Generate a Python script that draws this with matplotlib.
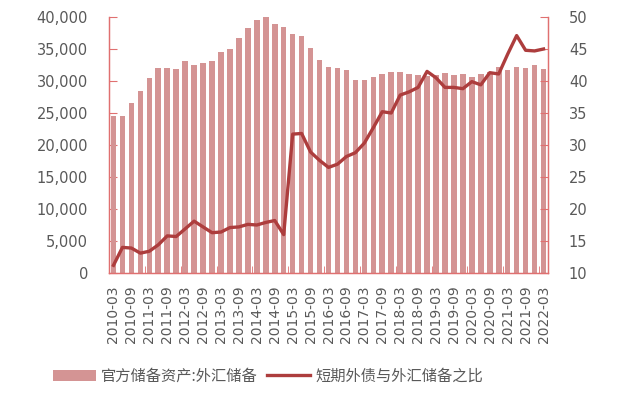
import numpy as np
import matplotlib
matplotlib.use('Agg')
import matplotlib.pyplot as plt
from matplotlib.ticker import FuncFormatter, FixedLocator

plt.rcParams['font.family'] = ['Noto Sans CJK SC', 'DejaVu Sans']

# quarterly, 2010-03 .. 2022-03
quarters = []
for y in range(2010, 2023):
    for m in ('03', '06', '09', '12'):
        quarters.append('%d-%s' % (y, m))
quarters = quarters[:49]

# 官方储备资产:外汇储备 (亿美元)
fx_reserves = [24500, 24500, 26500, 28500, 30450, 32000, 32000, 31800,
               33100, 32450, 32850, 33150, 34500, 35000, 36700, 38250,
               39550, 40000, 38900, 38450, 37300, 37000, 35150, 33350,
               32150, 32050, 31650, 30100, 30100, 30550, 31100, 31450,
               31450, 31150, 30870, 30750, 31000, 31200, 30950, 31100,
               30620, 31140, 31450, 32170, 31720, 32170, 32030, 32540,
               31900]

# 短期外债与外汇储备之比 (%)
debt_ratio = [11.2, 14.0, 13.9, 13.1, 13.4, 14.4, 15.8, 15.7,
              16.9, 18.1, 17.2, 16.3, 16.4, 17.1, 17.2, 17.6,
              17.5, 17.9, 18.2, 16.0, 31.7, 31.8, 28.9, 27.6,
              26.5, 27.0, 28.2, 28.8, 30.3, 32.7, 35.2, 35.0,
              37.8, 38.3, 39.0, 41.5, 40.5, 39.0, 39.0, 38.8,
              39.9, 39.4, 41.3, 41.1, 44.2, 47.1, 44.8, 44.7,
              45.0]

bar_color = '#d49494'
line_color = '#ad3d3d'
spine_color = '#e07070'
text_color = '#595959'
num_font = 'DejaVu Sans'

x = np.arange(len(quarters))

fig = plt.figure(figsize=(6.25, 3.95), dpi=100)
ax = fig.add_axes([109/625, 1-273/395, (548-109)/625, (273-17)/395])
ax2 = ax.twinx()

ax.bar(x, fx_reserves, width=0.62, color=bar_color, label='官方储备资产:外汇储备', zorder=2)
ax2.plot(x, debt_ratio, color=line_color, lw=2.4, label='短期外债与外汇储备之比',
         solid_joinstyle='round', zorder=3)

ax.set_xlim(-0.5, len(quarters) - 0.5)
ax.set_ylim(0, 40000)
ax2.set_ylim(10, 50)
ax.set_yticks(np.arange(0, 40001, 5000))
ax2.set_yticks(np.arange(10, 51, 5))
ax.yaxis.set_major_formatter(FuncFormatter(lambda v, p: '{:,.0f}'.format(v)))

ax.set_xticks(x[::2])
ax.set_xticklabels(quarters[::2], rotation=90)
ax.xaxis.set_minor_locator(FixedLocator(np.arange(3.5, len(quarters), 4)))

for a in (ax, ax2):
    for s in a.spines.values():
        s.set_color(spine_color)
        s.set_linewidth(0.9)
    a.spines['top'].set_visible(False)

ax.tick_params(axis='y', direction='in', length=6, color=spine_color,
               labelsize=10.5, labelcolor=text_color, pad=15)
ax2.tick_params(axis='y', direction='in', length=6, color=spine_color,
                labelsize=10.5, labelcolor=text_color, pad=15)
ax.tick_params(axis='x', which='major', length=0, labelsize=10,
               labelcolor=text_color, pad=9)
ax.tick_params(axis='x', which='minor', direction='in', length=5, color=spine_color)

for lab in ax.get_xticklabels() + ax.get_yticklabels() + ax2.get_yticklabels():
    lab.set_family(num_font)

h1, l1 = ax.get_legend_handles_labels()
h2, l2 = ax2.get_legend_handles_labels()
leg = fig.legend(h1 + h2, l1 + l2, loc='center', bbox_to_anchor=(268/625, 1-376/395),
                 ncol=2, frameon=False, fontsize=11, handlelength=2.8,
                 handleheight=0.7, columnspacing=0.6, handletextpad=0.35)
for t in leg.get_texts():
    t.set_color(text_color)

fig.savefig('out.png', dpi=100)
